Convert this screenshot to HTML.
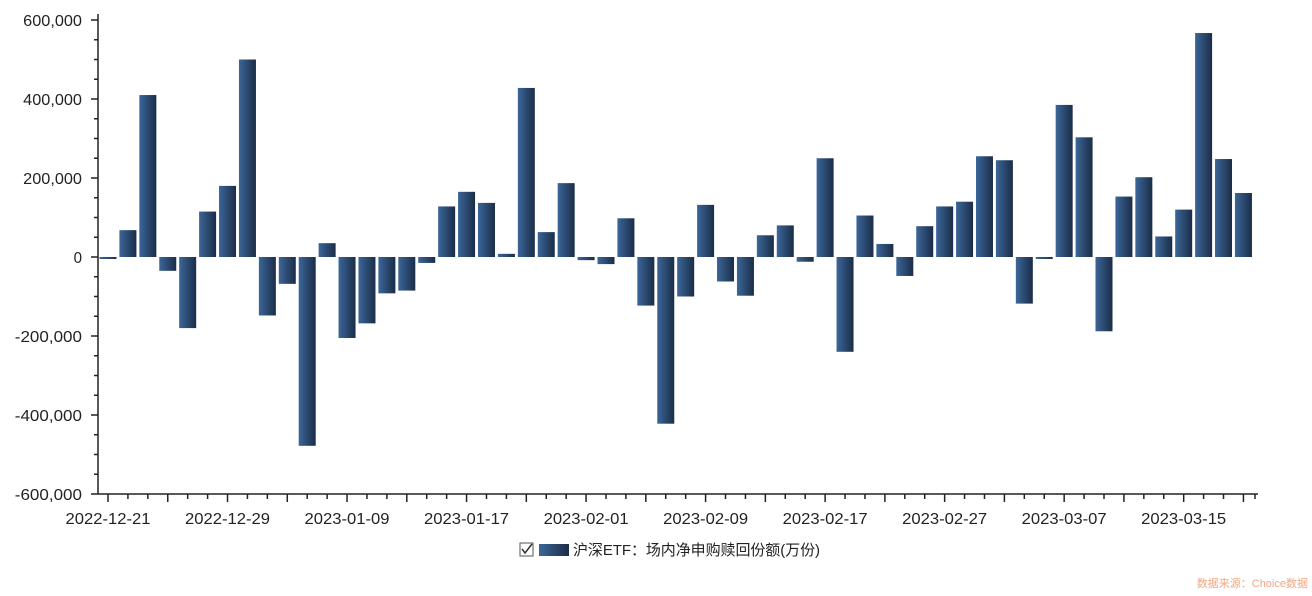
<!DOCTYPE html><html><head><meta charset="utf-8"><style>body{margin:0;background:#fff}</style></head><body>
<svg width="1312" height="591" xmlns="http://www.w3.org/2000/svg" font-family="Liberation Sans, Noto Sans CJK SC, sans-serif">
<defs><linearGradient id="g" x1="0" x2="1" y1="0" y2="0"><stop offset="0" stop-color="#3b6699"/><stop offset="1" stop-color="#1b2d47"/></linearGradient></defs>
<g id="bars"></g><g id="ax" stroke="#222" stroke-width="1.5"></g><g id="tx" font-size="16" fill="#222"></g>
<rect x="520" y="543" width="13" height="13" fill="#fff" stroke="#555"/><path d="M522 549 l3 4 l7 -9" stroke="#333" fill="none" stroke-width="1.5"/>
<rect x="539" y="544" width="30" height="12" fill="url(#g)"/>
<text x="573" y="555" font-size="15" fill="#222" textLength="247">沪深ETF：场内净申购赎回份额(万份)</text>
<text x="1308" y="587" font-size="11" fill="#f4a582" text-anchor="end">数据来源：Choice数据</text>
</svg>
<script>
var v=[-5,68,410,-35,-180,115,180,500,-148,-68,-478,35,-205,-168,-92,-85,-15,128,165,137,8,428,63,187,-8,-18,98,-123,-422,-100,132,-62,-98,55,80,-12,250,-240,105,33,-48,78,128,140,255,245,-118,-5,385,303,-188,153,202,52,120,567,248,162];
var ns="http://www.w3.org/2000/svg",z=257,k=237/600,b=document.getElementById('bars'),a=document.getElementById('ax'),t=document.getElementById('tx');
function el(p,tag,at,txt){var e=document.createElementNS(ns,tag);for(var q in at)e.setAttribute(q,at[q]);if(txt)e.textContent=txt;p.appendChild(e);}
var lab=['2022-12-21','2022-12-29','2023-01-09','2023-01-17','2023-02-01','2023-02-09','2023-02-17','2023-02-27','2023-03-07','2023-03-15'];
v.forEach(function(d,i){var cx=108+i*19.92,h=Math.abs(d)*k;el(b,'rect',{x:cx-8.5,y:d>0?z-h:z,width:17,height:Math.max(h,1),fill:'url(#g)'});});
el(a,'line',{x1:98,y1:14,x2:98,y2:494});el(a,'line',{x1:98,y1:494,x2:1258,y2:494});
for(var j=0;j<=24;j++){var y=20+j*19.75;el(a,'line',{x1:j%4==0?91:94,y1:y,x2:98,y2:y});}
for(var j=-3;j<=3;j++){var s=(j*200000).toLocaleString('en-US');el(t,'text',{x:82,y:z-j*79+6,'text-anchor':'end',textLength:s.length*8.4,lengthAdjust:'spacingAndGlyphs'},s);}
for(var i=0;i<58;i++){var x=108+i*19.92;el(a,'line',{x1:x,y1:494,x2:x,y2:i%3==0?502:499});}
el(a,'line',{x1:1255,y1:494,x2:1255,y2:499});
lab.forEach(function(s,i){el(t,'text',{x:108+i*6*19.92,y:524,'text-anchor':'middle',textLength:85,lengthAdjust:'spacingAndGlyphs'},s);});
</script></body></html>
